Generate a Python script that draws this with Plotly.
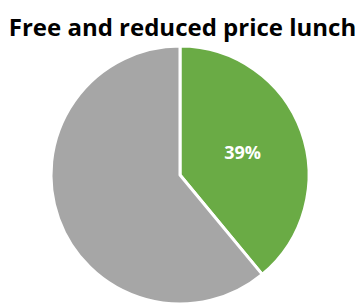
import plotly.graph_objects as go

labels = ["Free and reduced price lunch", "Other"]
values = [39, 61]
colors = ["#6AAB45", "#A6A6A6"]
shown_text = ["39%", ""]

fig = go.Figure(go.Pie(
    labels=labels,
    values=values,
    text=shown_text,
    textinfo="text",
    textposition="inside",
    insidetextorientation="horizontal",
    textfont=dict(family="Open Sans", size=18, color="white", weight="bold"),
    marker=dict(colors=colors, line=dict(color="white", width=3)),
    sort=False,
    direction="clockwise",
    rotation=0,
    hoverinfo="skip",
    domain=dict(x=[43/363, 301/363], y=[7/303, 265/303]),
    showlegend=False,
))

fig.update_layout(
    width=363, height=303,
    margin=dict(l=0, r=0, t=0, b=0),
    paper_bgcolor="white",
    plot_bgcolor="white",
    title=dict(text="<b>Free and reduced price lunch</b>", x=174.5/363, xanchor="center",
               y=1 - 20/303, yanchor="middle",
               font=dict(family="Open Sans", size=24, color="black")),
)

fig.write_html("out.html")
